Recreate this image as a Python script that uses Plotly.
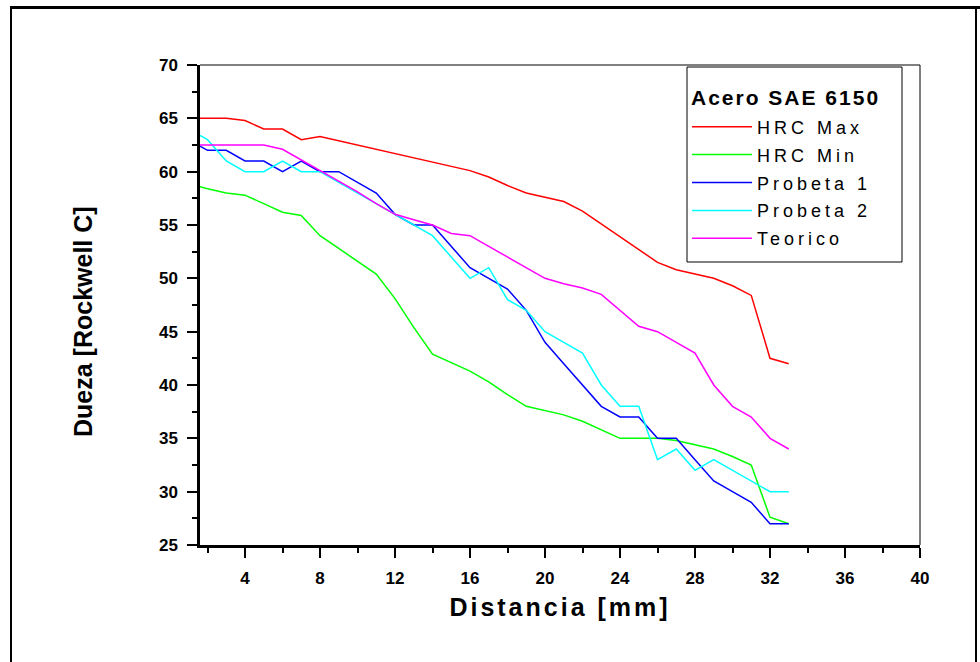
import plotly.graph_objects as go

# ---------------- data ----------------
distancia = [1.6, 2, 3, 4, 5, 6, 7, 8, 9, 10, 11, 12, 13, 14, 15, 16, 17,
             18, 19, 20, 21, 22, 23, 24, 25, 26, 27, 28, 29, 30, 31, 32, 33]

hrc_max = [65.0, 65.0, 65.0, 64.8, 64.0, 64.0, 63.0, 63.3, 62.9, 62.5, 62.1,
           61.7, 61.3, 60.9, 60.5, 60.1, 59.5, 58.7, 58.0, 57.6, 57.2, 56.3,
           55.1, 53.9, 52.7, 51.5, 50.8, 50.4, 50.0, 49.3, 48.4, 42.5, 42.0]

hrc_min = [58.6, 58.4, 58.0, 57.8, 57.0, 56.2, 55.9, 54.0, 52.8, 51.6, 50.4,
           48.1, 45.4, 42.9, 42.1, 41.3, 40.3, 39.1, 38.0, 37.6, 37.2, 36.6,
           35.8, 35.0, 35.0, 35.0, 34.8, 34.4, 34.0, 33.3, 32.5, 27.6, 27.0]

probeta_1 = [62.4, 62.0, 62.0, 61.0, 61.0, 60.0, 61.0, 60.0, 60.0, 59.0, 58.0,
             56.0, 55.0, 55.0, 53.0, 51.0, 50.0, 49.0, 47.0, 44.0, 42.0, 40.0,
             38.0, 37.0, 37.0, 35.0, 35.0, 33.0, 31.0, 30.0, 29.0, 27.0, 27.0]

probeta_2 = [63.4, 63.0, 61.0, 60.0, 60.0, 61.0, 60.0, 60.0, 59.0, 58.0, 57.0,
             56.0, 55.0, 54.0, 52.0, 50.0, 51.0, 48.0, 47.0, 45.0, 44.0, 43.0,
             40.0, 38.0, 38.0, 33.0, 34.0, 32.0, 33.0, 32.0, 31.0, 30.0, 30.0]

teorico = [62.5, 62.5, 62.5, 62.5, 62.5, 62.1, 61.1, 60.1, 59.1, 58.1, 57.0,
           56.0, 55.5, 55.0, 54.2, 54.0, 53.0, 52.0, 51.0, 50.0, 49.5, 49.1,
           48.5, 47.0, 45.5, 45.0, 44.0, 43.0, 40.0, 38.0, 37.0, 35.0, 34.0]

series_names = ["HRC Max", "HRC Min", "Probeta 1", "Probeta 2", "Teorico"]
series_values = [hrc_max, hrc_min, probeta_1, probeta_2, teorico]
series_colors = ["#FF0000", "#00FF00", "#0000FF", "#00FFFF", "#FF00FF"]

legend_title = "Acero SAE 6150"
x_title = "Distancia [mm]"
y_title = "Dueza [Rockwell C]"

# ---------------- layout helpers ----------------
W, H = 980, 662
ML, MR, MT, MB = 200, 60, 65, 117
PW, PH = W - ML - MR, H - MT - MB


def px_x(px):
    return (px - ML) / PW


def px_y(py):
    return (H - MB - py) / PH


FONT = "Arial, Liberation Sans, sans-serif"


def spaced(text, sp):
    return f'<span style="letter-spacing:{sp}px">{text}</span>'


fig = go.Figure()
for i, (name, vals, col) in enumerate(zip(series_names, series_values, series_colors)):
    fig.add_trace(go.Scatter(
        x=distancia, y=vals, mode="lines", name=spaced(name, 4),
        line=dict(color=col, width=1.5), legendgroup=f"g{i}",
    ))

axis_common = dict(
    showgrid=False, zeroline=False, showline=True, linecolor="black",
    linewidth=2.5, ticks="outside", ticklen=10, tickwidth=2, tickcolor="black",
    tickfont=dict(family=FONT, size=17, color="black", weight="bold"),
    ticklabelstandoff=6,
)

fig.update_layout(
    width=W, height=H,
    margin=dict(l=ML, r=MR, t=MT, b=MB),
    paper_bgcolor="white", plot_bgcolor="white",
    xaxis=dict(
        range=[1.6, 40], tick0=0, dtick=4,
        minor=dict(dtick=2, ticks="outside", ticklen=5, tickwidth=2, tickcolor="black"),
        title=dict(text=spaced(x_title, 3), standoff=12,
                   font=dict(family=FONT, size=25, color="black", weight="bold")),
        **axis_common,
    ),
    yaxis=dict(
        range=[25, 70], tick0=0, dtick=5,
        minor=dict(dtick=2.5, ticks="outside", ticklen=5, tickwidth=2, tickcolor="black"),
        **axis_common,
    ),
    showlegend=True,
    legend=dict(
        x=px_x(687), y=px_y(108.5), xanchor="left", yanchor="top",
        bgcolor="rgba(0,0,0,0)", borderwidth=0,
        font=dict(family=FONT, size=18, color="black"),
        traceorder="grouped", tracegroupgap=1.5, itemwidth=60,
    ),
    annotations=[
        dict(text=y_title, textangle=-90, xref="paper", yref="paper",
             x=px_x(83), y=px_y(322), xanchor="center", yanchor="middle",
             showarrow=False,
             font=dict(family=FONT, size=25, color="black", weight="bold")),
        dict(text=spaced(legend_title, 2), xref="paper", yref="paper",
             x=px_x(689), y=px_y(97), xanchor="left", yanchor="middle",
             showarrow=False,
             font=dict(family=FONT, size=21, color="black", weight="bold")),
    ],
    shapes=[
        # thin top / right frame of plot area
        dict(type="line", xref="paper", yref="paper", x0=0, x1=1, y0=1, y1=1,
             line=dict(color="black", width=1)),
        dict(type="line", xref="paper", yref="paper", x0=1, x1=1, y0=0, y1=1,
             line=dict(color="black", width=1)),
        # legend box
        dict(type="rect", xref="paper", yref="paper", x0=px_x(687), x1=px_x(902),
             y0=px_y(262), y1=px_y(67), line=dict(color="black", width=1)),
        # outer page frame
        dict(type="line", xref="paper", yref="paper", x0=px_x(10), x1=px_x(980),
             y0=px_y(7.5), y1=px_y(7.5), line=dict(color="black", width=3)),
        dict(type="line", xref="paper", yref="paper", x0=px_x(11), x1=px_x(11),
             y0=px_y(6), y1=px_y(662), line=dict(color="black", width=2)),
        dict(type="line", xref="paper", yref="paper", x0=px_x(976), x1=px_x(976),
             y0=px_y(6), y1=px_y(662), line=dict(color="black", width=2)),
    ],
)

fig.write_html(
    "out.html",
    config={"displayModeBar": False},
    post_script="document.body.style.margin='0';document.body.style.overflow='hidden';",
)
